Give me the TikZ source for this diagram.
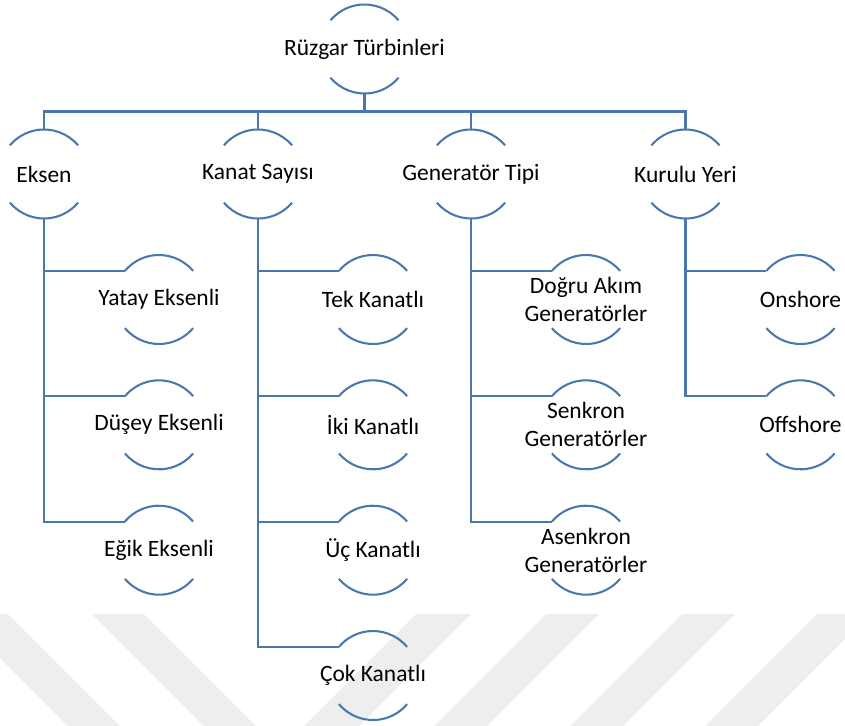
\documentclass[tikz,border=0pt]{standalone}
\usepackage{fontspec}
\setmainfont{Carlito}
\definecolor{ln}{HTML}{4A77AE}
\definecolor{wm}{HTML}{EEEEEE}
\tikzset{
  px/.style={x=0.75pt,y=0.75pt},
  hn/.style={circle,draw=none,inner sep=0pt,outer sep=0pt,minimum size=66.75pt},
  lbl/.style={align=center,font=\fontsize{17.6}{21}\selectfont,text=black,inner sep=0pt},
  arcline/.style={draw=ln,line width=1.55pt},
  conn/.style={draw=ln,line width=1.6pt}
}
\newcommand{\hnode}[4]{%
  \node[hn,label={[lbl]center:#4}] (#1) at (#2,-#3) {};
  \draw[arcline] (#1.40) arc[start angle=40,end angle=140,radius=33.375pt];
  \draw[arcline] (#1.220) arc[start angle=220,end angle=320,radius=33.375pt];
}
\begin{document}
\begin{tikzpicture}[px]
\useasboundingbox (0,0) rectangle (845,-725);
% watermark stripes
\begin{scope}
\clip (0,0) rectangle (845,-725);
\fill[wm] (-44,-614) -- (8,-614) -- (120,-726) -- (68,-726) -- cycle;
\fill[wm] (92,-614) -- (144,-614) -- (256,-726) -- (204,-726) -- cycle;
\fill[wm] (416,-614) -- (471,-614) -- (359,-726) -- (304,-726) -- cycle;
\fill[wm] (546,-614) -- (599,-614) -- (487,-726) -- (434,-726) -- cycle;
\fill[wm] (682,-614) -- (735,-614) -- (623,-726) -- (570,-726) -- cycle;
\fill[wm] (817,-614) -- (870,-614) -- (758,-726) -- (705,-726) -- cycle;
\end{scope}
% nodes
\hnode{root}{364.5}{49}{Rüzgar Türbinleri}
\hnode{eksen}{44}{174}{Eksen}
\hnode{kanat}{258}{174}{Kanat Sayısı}
\hnode{gen}{471}{174}{Generatör Tipi}
\hnode{kur}{685.5}{174}{Kurulu Yeri}
\hnode{yatay}{159}{299.5}{Yatay Eksenli}
\hnode{dusey}{159}{424.8}{Düşey Eksenli}
\hnode{egik}{159}{550.2}{Eğik Eksenli}
\hnode{tek}{373}{299.5}{Tek Kanatlı}
\hnode{iki}{373}{424.8}{İki Kanatlı}
\hnode{uc}{373}{550.2}{Üç Kanatlı}
\hnode{cok}{373}{675.5}{Çok Kanatlı}
\hnode{dogru}{586}{299.5}{Doğru Akım\\Generatörler}
\hnode{senk}{586}{424.8}{Senkron\\Generatörler}
\hnode{asenk}{586}{550.2}{Asenkron\\Generatörler}
\hnode{on}{800.5}{299.5}{Onshore}
\hnode{off}{800.5}{424.8}{Offshore}
% connectors
\draw[conn] (root.south) -- ++(0,-18) coordinate (bus);
\draw[conn] (eksen.north) |- (bus) -| (kur.north);
\draw[conn] (kanat.north) |- (bus);
\draw[conn] (gen.north) |- (bus);
\draw[conn] (eksen.south) |- (yatay.140);
\draw[conn] (eksen.south) |- (dusey.140);
\draw[conn] (eksen.south) |- (egik.140);
\draw[conn] (kanat.south) |- (tek.140);
\draw[conn] (kanat.south) |- (iki.140);
\draw[conn] (kanat.south) |- (uc.140);
\draw[conn] (kanat.south) |- (cok.140);
\draw[conn] (gen.south) |- (dogru.140);
\draw[conn] (gen.south) |- (senk.140);
\draw[conn] (gen.south) |- (asenk.140);
\draw[conn] (kur.south) |- (on.140);
\draw[conn] (kur.south) |- (off.140);
\end{tikzpicture}
\end{document}
